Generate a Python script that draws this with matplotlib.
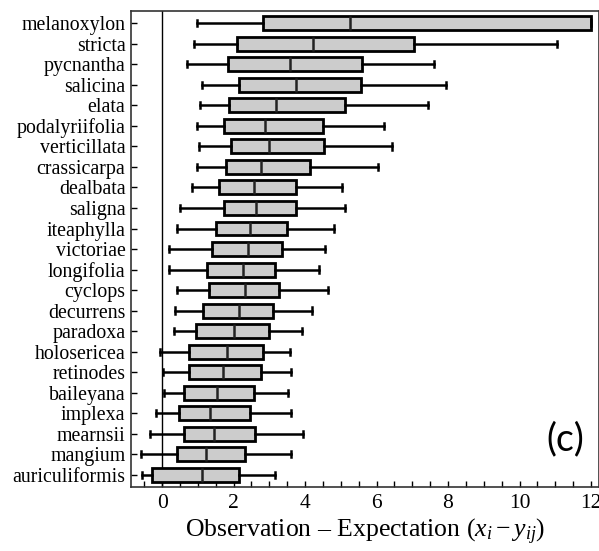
import matplotlib
matplotlib.use("Agg")
import matplotlib.pyplot as plt
from matplotlib.ticker import MultipleLocator

species = ["melanoxylon", "stricta", "pycnantha", "salicina", "elata", "podalyriifolia",
           "verticillata", "crassicarpa", "dealbata", "saligna", "iteaphylla", "victoriae",
           "longifolia", "cyclops", "decurrens", "paradoxa", "holosericea", "retinodes",
           "baileyana", "implexa", "mearnsii", "mangium", "auriculiformis"]
whis_lo = [0.98, 0.90, 0.70, 1.13, 1.06, 0.97, 1.03, 0.98, 0.84, 0.51, 0.42, 0.20,
           0.20, 0.42, 0.37, 0.32, -0.07, 0.03, 0.04, -0.18, -0.35, -0.60, -0.56]
q1 = [2.83, 2.09, 1.83, 2.16, 1.87, 1.72, 1.93, 1.79, 1.59, 1.72, 1.50, 1.41,
      1.27, 1.32, 1.14, 0.95, 0.74, 0.74, 0.60, 0.46, 0.61, 0.43, -0.27]
med = [5.25, 4.22, 3.58, 3.75, 3.19, 2.87, 3.00, 2.77, 2.56, 2.63, 2.46, 2.40,
       2.27, 2.31, 2.16, 2.00, 1.82, 1.71, 1.54, 1.35, 1.45, 1.24, 1.13]
q3 = [12.0, 7.05, 5.60, 5.57, 5.12, 4.49, 4.53, 4.14, 3.76, 3.76, 3.49, 3.35,
      3.17, 3.28, 3.10, 2.99, 2.81, 2.76, 2.58, 2.47, 2.59, 2.31, 2.15]
whis_hi = [12.0, 11.06, 7.61, 7.95, 7.44, 6.20, 6.42, 6.04, 5.04, 5.11, 4.82, 4.56,
           4.39, 4.65, 4.20, 3.91, 3.57, 3.60, 3.52, 3.61, 3.93, 3.60, 3.16]

plt.rcParams['mathtext.fontset'] = 'custom'
plt.rcParams['mathtext.rm'] = 'Liberation Serif'
plt.rcParams['mathtext.it'] = 'Liberation Serif:italic'

fig = plt.figure(figsize=(5.99, 5.51), dpi=100)
ax = fig.add_axes([0.2187, 0.1161, 0.7805, 0.8639])

n = len(species)
positions = list(range(n, 0, -1))
stats = []
for i in range(n):
    stats.append(dict(label=species[i], whislo=whis_lo[i], q1=q1[i], med=med[i],
                      q3=q3[i], whishi=whis_hi[i], fliers=[]))

ax.bxp(stats, positions=positions, vert=False, widths=0.68, patch_artist=True,
       showfliers=False,
       boxprops=dict(facecolor='#cccccc', edgecolor='black', linewidth=2.0),
       medianprops=dict(color='#222222', linewidth=1.8),
       whiskerprops=dict(color='black', linewidth=1.8),
       capprops=dict(color='black', linewidth=1.8),
       capwidths=0.3)

ax.axvline(0, color='black', linewidth=1.0, zorder=0)

ax.set_xlim(-0.87, 12.21)
ax.set_ylim(0.4, n + 0.6)
ax.set_yticks(positions)
ax.set_yticklabels(species, family='Liberation Serif', fontsize=14.3)
ax.xaxis.set_major_locator(MultipleLocator(2))
ax.xaxis.set_minor_locator(MultipleLocator(0.5))
for lab in ax.get_xticklabels():
    lab.set_family('Liberation Serif')
    lab.set_fontsize(15.5)
ax.tick_params(axis='both', which='both', direction='in', length=4, width=1, pad=4)
ax.tick_params(axis='x', which='major', pad=5)
for s in ax.spines.values():
    s.set_linewidth(1.2)
    s.set_color('#333333')

ax.set_xlabel('Observation – Expectation ($x_i - y_{ij}$)', family='Liberation Serif',
              fontsize=18.5, labelpad=3)

ax.text(0.93, 0.10, '(c)', transform=ax.transAxes, family='Lato', fontsize=27,
        ha='center', va='center')

fig.text(0.655, 1.0 + 5.5 / 551, 'Observation – Expectation ($x_i - y_{ij}$)',
         family='Liberation Serif', fontsize=13, ha='center', va='baseline')

fig.savefig('out.png', dpi=100)
